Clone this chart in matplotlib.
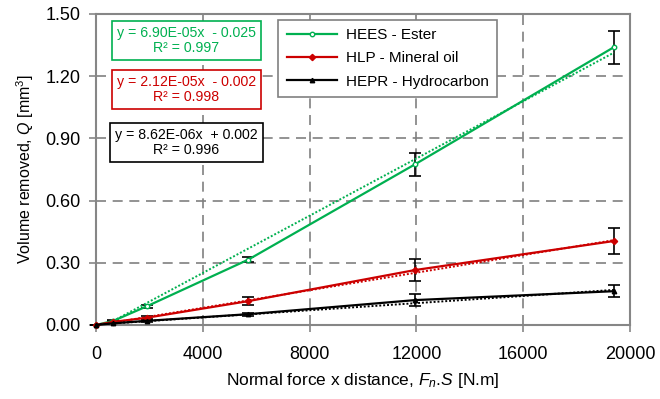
import numpy as np
import matplotlib
matplotlib.use('Agg')
import matplotlib.pyplot as plt

plt.rcParams['font.family'] = ['Liberation Sans', 'DejaVu Sans']
plt.rcParams['mathtext.fontset'] = 'custom'
plt.rcParams['mathtext.rm'] = 'Liberation Sans'
plt.rcParams['mathtext.it'] = 'Liberation Sans:italic'

# data
x = [0, 650, 1900, 5700, 11950, 19400]
ester = [0.0, 0.02, 0.09, 0.315, 0.775, 1.34]
ester_err = [0.0, 0.004, 0.006, 0.012, 0.055, 0.08]
mineral = [0.0, 0.015, 0.035, 0.115, 0.265, 0.405]
mineral_err = [0.0, 0.004, 0.006, 0.02, 0.055, 0.065]
hydro = [0.0, 0.008, 0.02, 0.052, 0.12, 0.163]
hydro_err = [0.0, 0.003, 0.004, 0.007, 0.03, 0.03]

# linear trendlines (slope, intercept) as printed on the chart
fits = [(6.90e-05, -0.025), (2.12e-05, -0.002), (8.62e-06, 0.002)]
fit_text = ['y = 6.90E-05x  - 0.025\nR² = 0.997',
            'y = 2.12E-05x  - 0.002\nR² = 0.998',
            'y = 8.62E-06x  + 0.002\nR² = 0.996']
labels = ['HEES - Ester', 'HLP - Mineral oil', 'HEPR - Hydrocarbon']
colors = ['#00B050', '#CC0000', '#000000']
markers = ['o', 'D', '^']

fig = plt.figure(figsize=(6.6, 3.99), dpi=100)
ax = fig.add_axes([0.1455, 0.1855, 0.809, 0.7795])

series = [(ester, ester_err), (mineral, mineral_err), (hydro, hydro_err)]
for (y, err), c, m, lab, (k, b) in zip(series, colors, markers, labels, fits):
    ax.errorbar(x, y, yerr=err, fmt='none', ecolor='black', elinewidth=1.2,
                capsize=4, capthick=1.2, zorder=2, clip_on=False)
    mfc = 'white' if m == 'o' else c
    ax.plot(x, y, color=c, lw=1.6, marker=m, ms=3.2, mfc=mfc, mec=c,
            mew=1, label=lab, zorder=3, clip_on=False)
    xf = np.array([0, x[-1]])
    ax.plot(xf, k * xf + b, color=c, lw=1.4, ls=(0, (1, 1)), zorder=3)

ax.set_xlim(0, 20000)
ax.set_ylim(0, 1.5)
ax.set_xticks(np.arange(0, 20001, 4000))
ax.set_yticks(np.arange(0, 1.51, 0.3))
ax.set_yticklabels(['%.2f' % v for v in np.arange(0, 1.51, 0.3)])
ax.grid(True, color='#808080', ls=(0, (6, 4)), lw=1.2)
ax.set_axisbelow(True)
for s in ax.spines.values():
    s.set_color('#868686')
    s.set_linewidth(1.5)
ax.tick_params(direction='out', length=5, width=1.2, color='#868686',
               labelsize=13, pad=6)
ax.tick_params(axis='x', pad=10)

ax.set_xlabel('Normal force x distance, $\\it{F_n}$.$\\it{S}$ [N.m]',
              fontsize=12.5, labelpad=6)
ax.set_ylabel('Volume removed, $\\it{Q}$ [mm$^3$]', fontsize=11.5, labelpad=7)

ypos = [0.916, 0.757, 0.588]
for t, c, yp in zip(fit_text, colors, ypos):
    ax.text(0.1695, yp, t, transform=ax.transAxes, ha='center', va='center',
            color=c, fontsize=10.2, linespacing=1.1,
            bbox=dict(boxstyle='square,pad=0.35', fc='white', ec=c, lw=1.2))

leg = ax.legend(loc='upper left', bbox_to_anchor=(0.341, 0.981),
                borderaxespad=0, fancybox=False, fontsize=11,
                edgecolor='#808080', framealpha=1, handlelength=3.3,
                labelspacing=0.6, borderpad=0.55, handletextpad=0.6)
leg.get_frame().set_linewidth(1.2)

fig.savefig('out.png', dpi=100)
